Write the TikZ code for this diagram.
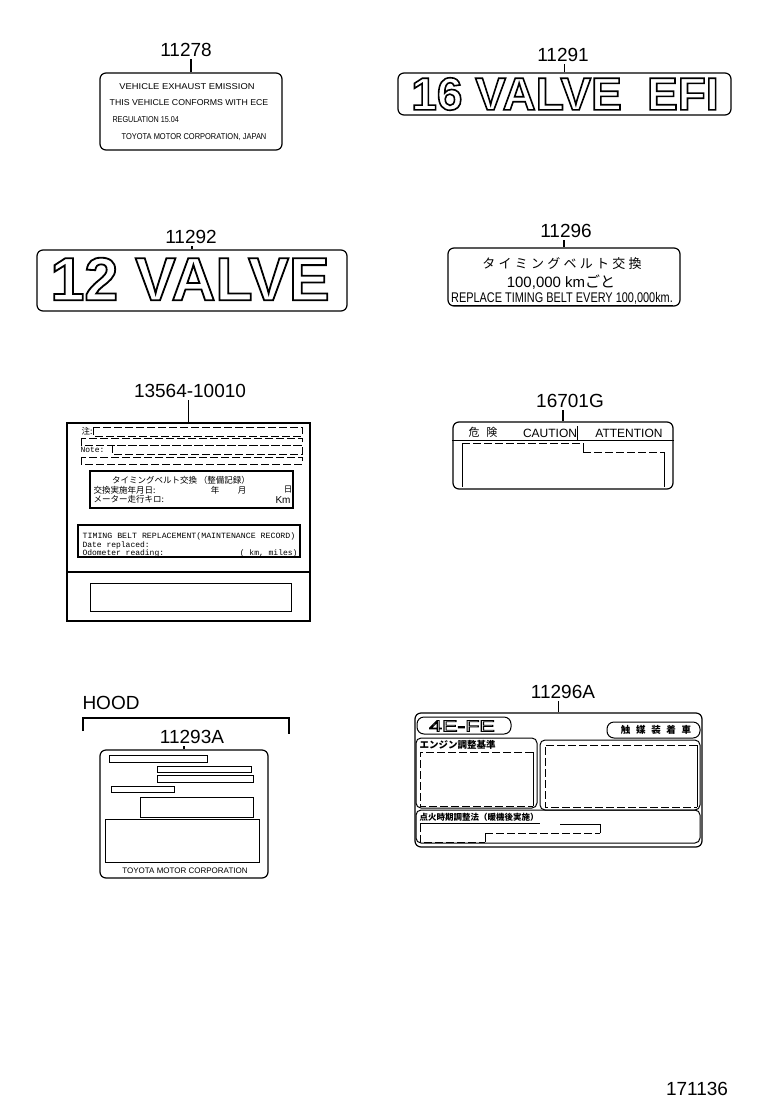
\documentclass[tikz,border=0pt]{standalone}
\usepackage{fontspec}
\setmainfont{Liberation Sans}
\setmonofont{Liberation Mono}
\newfontfamily\jp{Noto Sans CJK JP}
\newfontfamily\jpwide[LetterSpace=25]{Noto Sans CJK JP}
\newfontfamily\jpspread[LetterSpace=60]{Noto Sans CJK JP}
\newcommand{\hohl}[2]{\special{pdf:literal 2 Tr #1 w 0 0 0 RG 1 1 1 rg}#2\special{pdf:literal 0 Tr 0 0 0 rg 0 0 0 RG 1 w}}

\begin{document}
\begin{tikzpicture}[x=1pt, y=-1pt, line width=1pt]
  \useasboundingbox (0,0) rectangle (760,1112);

  % Stile.
  \tikzstyle{partno}=[inner sep=0pt, font=\fontsize{19}{19}\selectfont]
  \tikzstyle{plate}=[draw, line width=1.2pt, rounded corners=6pt, inner sep=0pt]
  \tikzstyle{txt}=[inner sep=0pt, font=\fontsize{8.5}{8.5}\selectfont]
  \tikzstyle{mtxt}=[inner sep=0pt, font=\ttfamily\fontsize{8}{8}\selectfont]
  \tikzstyle{jtxt}=[inner sep=0pt, font=\jp\fontsize{8.5}{8.5}\selectfont]
  \tikzstyle{field}=[draw, line width=1pt]
  \tikzstyle{dfield}=[draw, line width=1pt, dash pattern=on 8pt off 3pt]
  \tikzstyle{leader}=[line width=1.2pt, shorten >=2pt]

  % Schild 11278.
  \node[partno] (n11278) at (186,50) {11278};
  \node[plate, minimum width=182, minimum height=77] (p11278) at (191,111.5) {};
  \draw[leader] (p11278.north) -- (p11278.north |- n11278.south);
  \node[txt] (e1) at (187,87) {\scalebox{1.1}[1]{VEHICLE EXHAUST EMISSION}};
  \node[txt] (e2) at (189,103) {\scalebox{1.03}[1]{THIS VEHICLE CONFORMS WITH ECE}};
  \node[txt, anchor=west] (e3) at (112,120) {\scalebox{0.85}[1]{REGULATION 15.04}};
  \node[txt] (e4) at (194,137) {\scalebox{0.88}[1]{TOYOTA MOTOR CORPORATION, JAPAN}};

  % Schild 11291.
  \node[partno] (n11291) at (563,55) {11291};
  \node[plate, minimum width=333, minimum height=42] (p11291) at (564.5,94) {};
  \draw[leader] (p11291.north) -- (p11291.north |- n11291.south);
  \node[inner sep=0pt, font=\fontsize{46}{46}\selectfont\bfseries] (v16) at (565,94)
    {\hohl{1.6}{16 VALVE\hspace{0.55em}EFI}};

  % Schild 11292.
  \node[partno] (n11292) at (191,237) {11292};
  \node[plate, minimum width=310, minimum height=61] (p11292) at (192,280.5) {};
  \draw[leader] (p11292.north) -- (p11292.north |- n11292.south);
  \node[inner sep=0pt, font=\fontsize{61}{61}\selectfont\bfseries] (v12) at (190,279)
    {\hohl{1.8}{12 VALVE}};

  % Schild 11296.
  \node[partno] (n11296) at (566,231) {11296};
  \node[plate, minimum width=232, minimum height=58] (p11296) at (564,277) {};
  \draw[leader] (p11296.north) -- (p11296.north |- n11296.south);
  \node[inner sep=0pt, font=\jpwide\fontsize{13}{13}\selectfont] (t1) at (562,264) {タイミングベルト交換};
  \node[inner sep=0pt, font=\fontsize{15}{15}\selectfont] (t2) at (561,282) {100,000 km{\jp ごと}};
  \node[inner sep=0pt, font=\fontsize{14}{14}\selectfont] (t3) at (562,299)
    {\scalebox{0.78}[1]{\underline{REPLACE TIMING BELT EVERY 100,000km.}}};

  % Schild 13564-10010.
  \node[partno] (n13564) at (190,391) {13564-10010};
  \node[draw, line width=1.2pt, inner sep=0pt, minimum width=243, minimum height=198] (p13564) at (188.5,522) {};
  \draw[leader] (p13564.north) -- (p13564.north |- n13564.south);
  \node[jtxt, anchor=west] (r1) at (81,431) {注:};
  \draw[dfield] (93,427) rectangle (302,436);
  \draw[dfield] (81,438) rectangle (302,445);
  \node[mtxt, anchor=west] (r2) at (80,449.5) {Note:};
  \draw[dfield] (112,445) rectangle (302,454);
  \draw[dfield] (81,457) rectangle (302,464);
  \draw[field, line width=1.3pt] (90,471) rectangle (293,508);
  \node[jtxt] (r3) at (181,480) {タイミングベルト交換 （整備記録）};
  \node[jtxt, anchor=west] (r4) at (93,490) {交換実施年月日:};
  \node[jtxt] (r5) at (215,490) {年};
  \node[jtxt] (r6) at (242,490) {月};
  \node[jtxt] (r7) at (288,490) {日};
  \node[jtxt, anchor=west] (r8) at (93,499) {メーター走行キロ:};
  \node[txt, anchor=east, font=\fontsize{10}{10}\selectfont] (r9) at (291,500) {Km};
  \draw[field, line width=1.3pt] (78,525) rectangle (300,557);
  \node[mtxt] (r10) at (189,536) {\scalebox{1.03}[1]{TIMING BELT REPLACEMENT(MAINTENANCE RECORD)}};
  \node[mtxt, anchor=west] (r11) at (82,545) {Date replaced:};
  \node[mtxt, anchor=west] (r12) at (82,553) {Odometer reading:};
  \node[mtxt, anchor=east] (r13) at (298,553) {( km, miles)};
  \draw[line width=1.2pt] (p13564.west |- 0,572) -- (p13564.east |- 0,572);
  \draw[field] (90,583) rectangle (291,611);

  % Schild 16701G.
  \node[partno] (n16701) at (570,401) {16701G};
  \node[plate, minimum width=220, minimum height=67] (p16701) at (563,455.5) {};
  \draw[leader] (p16701.north) -- (p16701.north |- n16701.south);
  \node[inner sep=0pt, font=\jpspread\fontsize{11}{11}\selectfont] (c1) at (483,432) {危険};
  \node[inner sep=0pt, font=\fontsize{12}{12}\selectfont] (c2) at (550,433) {CAUTION};
  \node[inner sep=0pt, font=\fontsize{12}{12}\selectfont] (c3) at (629,433) {ATTENTION};
  \draw (p16701.west |- 0,440) -- (p16701.east |- 0,440);
  \draw (577,426) -- (577,440);
  \draw[dfield] (462,443) -- (583,443);
  \draw (583,443) -- (583,452);
  \draw[dfield] (583,452) -- (664,452);
  \draw (664,452) -- (664,487);
  \draw (462,443) -- (462,487);

  % Haube.
  \node[partno, anchor=west] (hood) at (82,703) {HOOD};
  \draw[line width=1.2pt] (83,731) -- (83,718) -- (289,718) -- (289,734);

  % Schild 11293A.
  \node[partno] (n11293) at (192,737) {11293A};
  \node[plate, minimum width=168, minimum height=128] (p11293) at (184,814) {};
  \draw[leader] (p11293.north) -- (p11293.north |- n11293.south);
  \draw[field] (109,755) rectangle (207,762);
  \draw[field] (157,766) rectangle (251,772);
  \draw[field] (157,775) rectangle (253,782);
  \draw[field] (111,786) rectangle (174,792);
  \draw[field] (140,797) rectangle (253,817);
  \draw[field] (105,819) rectangle (259,862);
  \node[txt, font=\fontsize{8}{8}\selectfont] (h1) at (185,871) {TOYOTA MOTOR CORPORATION};

  % Schild 11296A.
  \node[partno] (n11296a) at (563,692) {11296A};
  \node[plate, minimum width=287, minimum height=134] (p11296a) at (558.5,780) {};
  \draw[leader] (p11296a.north) -- (p11296a.north |- n11296a.south);
  \draw[rounded corners=7pt] (417,717) rectangle (511,734);
  \node[inner sep=0pt, font=\fontsize{16}{16}\selectfont] (a1) at (462,726)
    {\scalebox{1.45}[1]{\hohl{0.8}{4E-FE}}};
  \draw[rounded corners=7pt] (607,722) rectangle (700,738);
  \node[inner sep=0pt, font=\jpspread\fontsize{9.5}{9.5}\selectfont\bfseries] (a2) at (656,730) {触媒装着車};
  \draw[rounded corners=5pt] (416,738) rectangle (537,808);
  \node[jtxt, anchor=west, font=\jp\fontsize{9.5}{9.5}\selectfont\bfseries] (a3) at (419,745) {エンジン調整基準};
  \draw[dfield] (533,752) -- (420,752) -- (420,806) -- (533,806);
  \draw (533,752) -- (533,806);
  \draw[rounded corners=5pt] (540,740) rectangle (700,810);
  \draw[dfield] (697,745) -- (545,745) -- (545,807) -- (697,807);
  \draw (697,745) -- (697,807);
  \draw[rounded corners=5pt] (416,810) rectangle (700,843);
  \node[jtxt, anchor=west, font=\jp\fontsize{8.5}{8.5}\selectfont\bfseries] (a4) at (419,817) {点火時期調整法（暖機後実施）};
  \draw (420,823.5) -- (540,823.5);
  \draw[dfield] (420,824) -- (420,842) -- (485,842);
  \draw (485,842) -- (485,833);
  \draw[dfield] (485,833) -- (600,833);
  \draw (600,833) -- (600,824) -- (560,824);

  % Nummer.
  \node[partno] (n171136) at (697,1089) {171136};
\end{tikzpicture}
\end{document}
